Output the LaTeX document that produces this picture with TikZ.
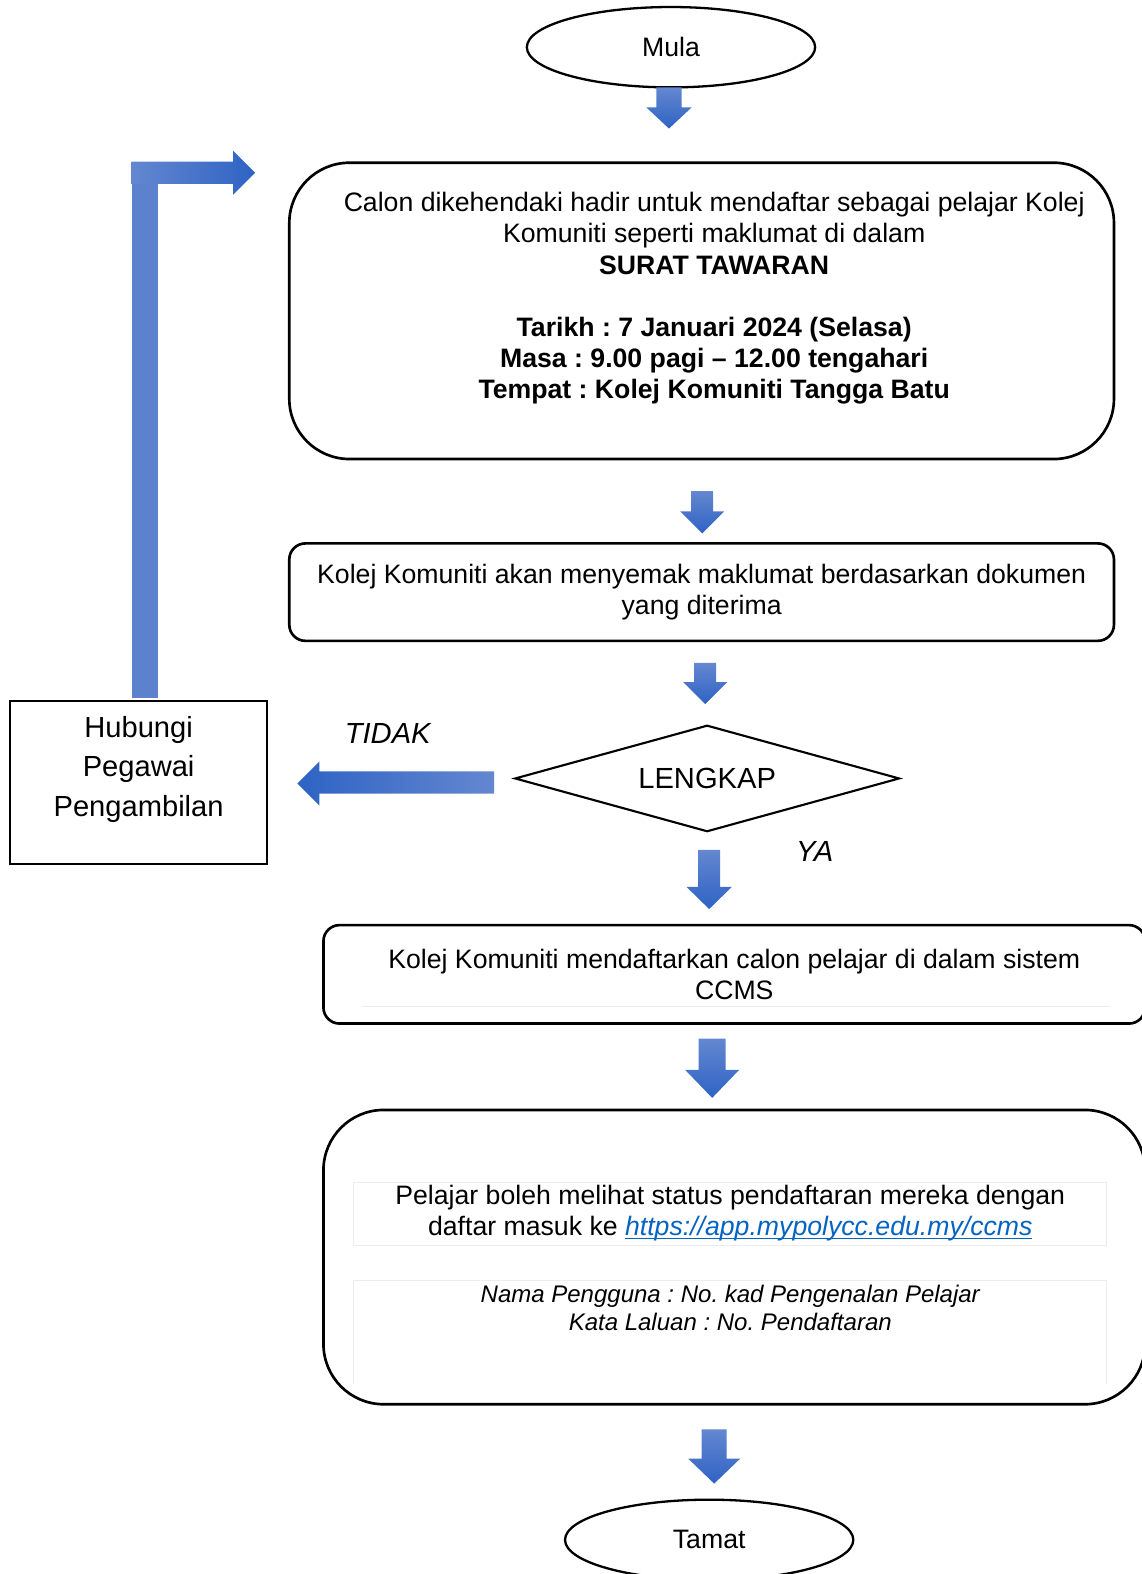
\documentclass[tikz,border=0pt]{standalone}
\usepackage{fontspec}
\setmainfont{Liberation Sans}
\usepackage{tikz}
\usetikzlibrary{shapes.geometric}
\frenchspacing

\definecolor{arrowlight}{RGB}{100,135,208}
\definecolor{arrowdark}{RGB}{46,99,196}
\definecolor{linkblue}{RGB}{5,99,193}

\tikzset{
    txt/.style={font=\fontsize{7.55}{8.82}\selectfont, align=center, inner sep=0},
    bigtxt/.style={font=\fontsize{8.25}{11.1}\selectfont, align=center, inner sep=0},
    flowbox/.style={draw, line width=0.75pt, inner sep=0},
    endpoint/.style={draw, ellipse, line width=0.65pt, inner sep=0,
        minimum width=28.7mm, minimum height=8mm},
    faint/.style={draw=black!7, line width=0.3pt}
}

% x, top, head base, tip, shaft half width, head half width
\newcommand{\blockdown}[6]{%
    \shade[top color=arrowlight, bottom color=arrowdark]
        (#1-#5,#2) -- (#1+#5,#2) -- (#1+#5,#3) -- (#1+#6,#3) -- (#1,#4)
        -- (#1-#6,#3) -- (#1-#5,#3) -- cycle;}

\newsavebox\linkbox
\newcommand{\linkul}[1]{\sbox\linkbox{#1}\rlap{\rule[-0.9pt]{\wd\linkbox}{0.35pt}}\usebox\linkbox}

\begin{document}
\begin{tikzpicture}[x=0.1mm, y=-0.1mm]
    \useasboundingbox (0,0) rectangle (1136,1567);

    \node[endpoint, txt] (mula) at (668,47) {Mula};
    \blockdown{666}{87}{107}{128}{12.5}{22.5}

    \node[flowbox, rounded corners=6mm, minimum width=82.1mm, minimum height=29.5mm]
        (calon) at (698.5,309.5) {};
    \node[txt] (calontext) at (711,297) {Calon dikehendaki hadir untuk mendaftar sebagai pelajar Kolej\\
        Komuniti seperti maklumat di dalam\\
        \textbf{SURAT TAWARAN}\\[8.82pt]
        \textbf{Tarikh : 7 Januari 2024 (Selasa)}\\
        \textbf{Masa : 9.00 pagi -- 12.00 tengahari}\\
        \textbf{Tempat : Kolej Komuniti Tangga Batu}};
    \blockdown{699}{489}{509}{531}{11}{22}

    \node[flowbox, txt, rounded corners=1.6mm, minimum width=82.1mm, minimum height=9.7mm]
        (semak) at (698.5,589.5) {Kolej Komuniti akan menyemak maklumat berdasarkan dokumen\\
        yang diterima};
    \blockdown{702}{660}{679}{701}{11}{22}

    \node[draw, diamond, line width=0.6pt, inner sep=0, aspect=3.6,
        minimum width=38.3mm, minimum height=10.6mm, bigtxt] (lengkap) at (704,775) {LENGKAP};

    % TIDAK
    \node[bigtxt, font=\fontsize{8.25}{11.1}\selectfont\itshape] (tidak) at (386,730) {TIDAK};
    \shade[left color=arrowdark, right color=arrowlight]
        (492,768) -- (318,768) -- (318,758) -- (296,780) -- (318,802) -- (318,790) -- (492,790) -- cycle;

    \node[flowbox, line width=0.6pt, minimum width=25.6mm, minimum height=16.2mm]
        (hubungi) at (138,779) {};
    \node[bigtxt] (hubungitext) at (138,766) {Hubungi\\Pegawai\\Pengambilan};

    % back to the top
    \fill[arrowlight!85!arrowdark] (131,695) rectangle (157,183);
    \shade[left color=arrowlight, right color=arrowdark]
        (131,161) -- (232,161) -- (232,150) -- (254,172) -- (232,194) -- (232,183) -- (131,183) -- cycle;

    % YA
    \node[bigtxt, font=\fontsize{8.25}{11.1}\selectfont\itshape] (ya) at (811,848) {YA};
    \blockdown{706}{846}{883}{905}{11}{22.5}

    \node[flowbox, txt, rounded corners=1.6mm, minimum width=81.8mm, minimum height=9.8mm]
        (daftar) at (731,970) {Kolej Komuniti mendaftarkan calon pelajar di dalam sistem\\CCMS};
    \draw[faint] (360,1002) -- (1105,1002);
    \blockdown{709}{1034}{1065}{1093}{13.5}{27}

    \node[flowbox, rounded corners=6mm, minimum width=81.8mm, minimum height=29.3mm]
        (status) at (731,1251.5) {};
    \draw[faint] (352,1177) rectangle (1102,1240);
    \draw[faint] (352,1378) -- (352,1275) -- (1102,1275) -- (1102,1378);
    \node[txt] (statustext) at (727,1208) {Pelajar boleh melihat status pendaftaran mereka dengan\\
        daftar masuk ke {\color{linkblue}\linkul{\itshape https://app.mypolycc.edu.my/ccms}}};
    \node[txt, font=\fontsize{6.8}{7.97}\selectfont\itshape] (login) at (727,1302)
        {Nama Pengguna : No. kad Pengenalan Pelajar\\Kata Laluan : No. Pendaftaran};
    \blockdown{711}{1423}{1452}{1477}{12.5}{26}

    \node[endpoint, txt] (tamat) at (706,1533) {Tamat};
\end{tikzpicture}
\end{document}
